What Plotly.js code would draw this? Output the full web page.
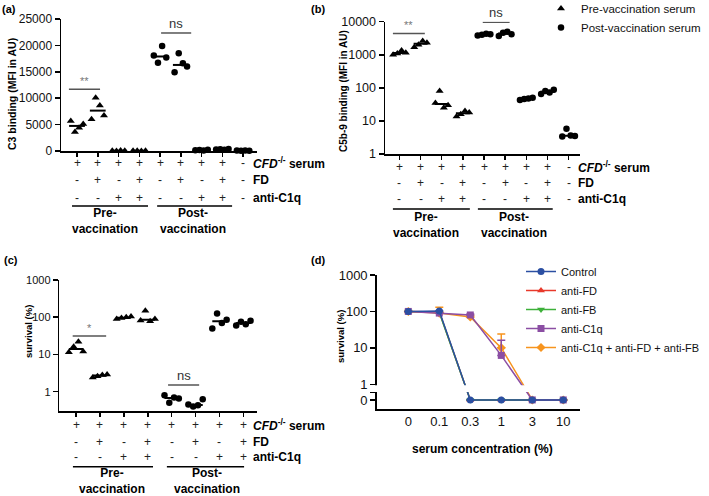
<!DOCTYPE html>
<html><head><meta charset="utf-8">
<script src="https://cdn.plot.ly/plotly-3.0.1.min.js"></script>
<style>html,body{margin:0;padding:0;background:#fff}#chart{width:709px;height:496px}</style>
</head><body><div id="chart"></div>
<script>
// ---------------- data ----------------
// condition rows under panels (a),(b): 9 columns; panel (c): 8 columns
const serumRow9 = ['+','+','+','+','+','+','+','+','-'];
const fdRow9    = ['-','+','-','+','-','+','-','+','-'];
const c1qRow9   = ['-','-','+','+','-','-','+','+','-'];
const serumRow8 = ['+','+','+','+','+','+','+','+'];
const fdRow8    = ['-','+','-','+','-','+','-','+'];
const c1qRow8   = ['-','-','+','+','-','-','+','+'];
const rowLabels = ['<b><i>CFD</i><sup>-/-</sup> serum</b>', '<b>FD</b>', '<b>anti-C1q</b>'];
const groupLabels = ['<b>Pre-<br>vaccination</b>', '<b>Post-<br>vaccination</b>'];

// (a) C3 binding (MFI in AU)
const c3Pre  = [[5700, 3600, 4400, 5100], [6000, 10100, 8600, 6700], [60, 20, 100, 40], [30, 50, 20, 60]];
const c3Post = [[18100, 16700, 19900, 17700], [14900, 18500, 16600, 16000], [150, 200, 100, 250], [300, 350, 250, 400]];
const c3NoSerum = [80, 50, 100, 60];

// (b) C5b-9 binding (MFI in AU)
const c5Pre  = [[1000, 1100, 1350, 1150], [1700, 2000, 2600, 2300], [35, 80, 25, 30], [13.5, 16, 20, 18]];
const c5Post = [[3800, 4000, 4300, 4200], [3700, 4600, 5000, 4200], [43, 46, 48, 50], [65, 80, 72, 88]];
const c5NoSerum = [3.4, 5.8, 3.6, 3.5];

// (c) survival (%)
const survPre  = [[11.5, 16, 22, 12], [2.4, 2.6, 2.8, 2.9], [90, 95, 100, 105], [82, 150, 78, 90]];
const survPost = [[0.8, 0.5, 0.7, 0.65], [0.45, 0.4, 0.43, 0.62], [50, 125, 70, 85], [60, 75, 65, 80]];

// (d) survival (%) vs serum concentration (%)
const concLabels = ['0', '0.1', '0.3', '1', '3', '10'];
const dControl = [100, 103, 0, 0, 0, 0];
const dAntiFD  = [100, 96, 0, 0, 0, 0];
const dAntiFB  = [100, 93, 0, 0, 0, 0];
const dAntiC1q = [100, 90, 80, 6.2, 0, 0];
const dAntiAll = [100, 90, 70, 10, 0, 0];
const sdControl = [0, 0, 0, 0, 0, 0];
const sdAntiFD  = [0, 0, 0, 0, 0, 0];
const sdAntiFB  = [0, 0, 0, 0, 0, 0];
const sdAntiC1q = [0, 0, 5, 10, 0, 0];
const sdAntiAll = [0, 40, 8, 14, 0, 0];

// ---------------- helpers ----------------
const W = 709, H = 496;
const px = x => x / W;
const py = y => 1 - y / H;
const FONT = 'Liberation Sans, Arial, sans-serif';
const JIT = [-0.3, -0.1, 0.1, 0.3];

function median(a) {
  const s = [...a].sort((p, q) => p - q), n = s.length;
  return n % 2 ? s[(n - 1) / 2] : (s[n / 2 - 1] + s[n / 2]) / 2;
}
function dots(groups, start, xa, ya, symbol, size, name, showlegend) {
  const x = [], y = [];
  groups.forEach((g, i) => g.forEach((v, j) => { x.push(start + i + JIT[j]); y.push(v); }));
  return { type: 'scatter', mode: 'markers', x, y, xaxis: xa, yaxis: ya, name, showlegend,
    legend: 'legend2', marker: { symbol, size, color: '#000' }, cliponaxis: false, hoverinfo: 'skip' };
}
function medians(groups, start, xa, ya, hw) {
  const x = [], y = [];
  groups.forEach((g, i) => { const m = median(g); x.push(start + i - hw, start + i + hw, null); y.push(m, m, null); });
  return { type: 'scatter', mode: 'lines', x, y, xaxis: xa, yaxis: ya, showlegend: false,
    line: { color: '#000', width: 2 }, cliponaxis: false, hoverinfo: 'skip' };
}

// broken axis for panel (d): positive values on log scale, zero on a separate lower segment
const ZERO_LEVEL = -0.43, GAP_LOW = -0.231;
const tf = v => v > 0 ? Math.log10(v) : ZERO_LEVEL;
function dTrace(name, vals, sd, color, symbol, rank) {
  return {
    type: 'scatter', mode: 'lines+markers', name, legend: 'legend', legendrank: rank,
    x: concLabels, y: vals.map(tf), xaxis: 'x4', yaxis: 'y4',
    line: { color, width: 1.5 }, marker: { color, symbol, size: 7 },
    error_y: { type: 'data', symmetric: false,
      array: vals.map((v, i) => (sd[i] > 0 && v > 0) ? Math.log10(v + sd[i]) - Math.log10(v) : 0),
      arrayminus: vals.map(() => 0), color, thickness: 1.5, width: 4 },
    cliponaxis: false, hoverinfo: 'skip'
  };
}

// ---------------- traces ----------------
const traces = [
  // (a)
  dots(c3Pre, 1, 'x', 'y', 'triangle-up', 7, 'Pre-vaccination serum', false),
  dots(c3Post, 5, 'x', 'y', 'circle', 6.5, 'Post-vaccination serum', false),
  dots([c3NoSerum], 9, 'x', 'y', 'circle', 6.5, 'No serum', false),
  medians(c3Pre.concat(c3Post, [c3NoSerum]), 1, 'x', 'y', 0.38),
  // (b)
  dots(c5Pre, 1, 'x2', 'y2', 'triangle-up', 7, 'Pre-vaccination serum', true),
  dots(c5Post, 5, 'x2', 'y2', 'circle', 6.5, 'Post-vaccination serum', true),
  dots([c5NoSerum], 9, 'x2', 'y2', 'circle', 6.5, 'No serum', false),
  medians(c5Pre.concat(c5Post, [c5NoSerum]), 1, 'x2', 'y2', 0.33),
  // (c)
  dots(survPre, 1, 'x3', 'y3', 'triangle-up', 7, 'Pre-vaccination serum', false),
  dots(survPost, 5, 'x3', 'y3', 'circle', 6.5, 'Post-vaccination serum', false),
  medians(survPre.concat(survPost), 1, 'x3', 'y3', 0.3),
  // (d)
  dTrace('anti-FD', dAntiFD, sdAntiFD, '#e8392b', 'triangle-up', 2),
  dTrace('anti-FB', dAntiFB, sdAntiFB, '#3db03a', 'triangle-down', 3),
  dTrace('anti-C1q + anti-FD + anti-FB', dAntiAll, sdAntiAll, '#f7941e', 'diamond', 5),
  dTrace('anti-C1q', dAntiC1q, sdAntiC1q, '#8b4ea3', 'square', 4),
  dTrace('Control', dControl, sdControl, '#2b4fa2', 'circle', 1)
];

// ---------------- layout ----------------
const axBase = { showline: true, linecolor: '#000', linewidth: 1.5, ticks: 'outside', ticklen: 5,
  tickwidth: 1.5, tickcolor: '#000', showgrid: false, zeroline: false, fixedrange: true,
  tickfont: { family: FONT, size: 12, color: '#111' } };
const catX = n => ({ tickvals: Array.from({ length: n }, (_, i) => i + 1), showticklabels: false, ticklen: 4 });

const layout = {
  width: W, height: H, margin: { l: 0, r: 0, t: 0, b: 0, autoexpand: false },
  paper_bgcolor: '#fff', plot_bgcolor: 'rgba(0,0,0,0)',
  font: { family: FONT, color: '#000' },
  xaxis:  Object.assign({}, axBase, catX(9), { domain: [px(61), px(257)], range: [0.229, 9.67], anchor: 'y' }),
  yaxis:  Object.assign({}, axBase, { domain: [py(151), py(19)], range: [0, 25000], anchor: 'x',
    tickvals: [0, 5000, 10000, 15000, 20000, 25000], tickformat: 'd' }),
  xaxis2: Object.assign({}, axBase, catX(9), { domain: [px(385), px(580)], range: [0.316, 9.54], anchor: 'y2' }),
  yaxis2: Object.assign({}, axBase, { type: 'log', domain: [py(154), py(21.7)], range: [0, 4], anchor: 'x2',
    tickvals: [1, 10, 100, 1000, 10000], ticktext: ['1', '10', '100', '1000', '10000'],
    tickfont: { family: FONT, size: 12.5, color: '#111' } }),
  xaxis3: Object.assign({}, axBase, catX(8), { domain: [px(59.3), px(257)], range: [0.30, 8.57], anchor: 'y3' }),
  yaxis3: Object.assign({}, axBase, { type: 'log', domain: [py(411), py(280)], range: [-0.52, 3], anchor: 'x3',
    tickvals: [1, 10, 100, 1000], ticktext: ['1', '10', '100', '1000'],
    tickfont: { family: FONT, size: 11, color: '#111' } }),
  xaxis4: Object.assign({}, axBase, { type: 'category', domain: [px(376.7), px(580)], range: [-1.02, 5.54], anchor: 'y4',
    ticks: '', tickfont: { family: FONT, size: 13, color: '#111' } }),
  yaxis4: Object.assign({}, axBase, { domain: [py(409.3), py(275)], range: [-0.687, 3], anchor: 'x4',
    tickvals: [ZERO_LEVEL, GAP_LOW, 0, 1, 2, 3], ticktext: ['0', '', '1', '10', '100', '1000'],
    tickfont: { family: FONT, size: 13, color: '#111' } }),
  legend: { x: px(521), y: py(257), xanchor: 'left', yanchor: 'top', bgcolor: 'rgba(0,0,0,0)',
    font: { family: FONT, size: 11, color: '#111' }, traceorder: 'normal' },
  legend2: { x: px(541), y: 1 + 6 / H, xanchor: 'left', yanchor: 'top', bgcolor: 'rgba(0,0,0,0)',
    font: { family: FONT, size: 11.5, color: '#111' } },
  shapes: [], annotations: []
};

const A = layout.annotations, S = layout.shapes;
function txt(o) { A.push(Object.assign({ showarrow: false, xanchor: 'center', yanchor: 'middle' }, o)); }

// panel letters
[['(a)', 9, 9], ['(b)', 318, 9], ['(c)', 11, 260], ['(d)', 318, 260]].forEach(([t, x, y]) =>
  txt({ xref: 'paper', yref: 'paper', x: px(x), y: py(y), text: '<b>' + t + '</b>', font: { size: 11 } }));

// axis titles
[['C3 binding (MFI in AU)', 12, 94, 10.5], ['C5b-9 binding (MFI in AU)', 343, 91, 10],
 ['survival (%)', 28, 332, 9.5], ['survival (%)', 340, 337, 9.5]].forEach(([t, x, y, s]) =>
  txt({ xref: 'paper', yref: 'paper', x: px(x), y: py(y), text: '<b>' + t + '</b>', textangle: -90, font: { size: s } }));
txt({ xref: 'paper', yref: 'paper', x: px(482), y: py(449), text: '<b>serum concentration (%)</b>', font: { size: 12 } });

// condition rows
function rows(rowArr, xa, ys, labelX) {
  rowArr.forEach((row, r) => {
    row.forEach((s, i) => txt({ xref: xa, yref: 'paper', x: i + 1, y: py(ys[r]), text: s, font: { size: 12, color: '#222' } }));
    txt({ xref: 'paper', yref: 'paper', x: px(labelX), y: py(ys[r]), xanchor: 'left', text: rowLabels[r], font: { size: 12 } });
  });
}
rows([serumRow9, fdRow9, c1qRow9], 'x', [163.3, 180, 197.7], 251);
rows([serumRow9, fdRow9, c1qRow9], 'x2', [167, 183, 199], 576);
rows([serumRow8, fdRow8, c1qRow8], 'x3', [425, 441.7, 457.3], 251);

// group underlines + labels
function groups(xa, yLine, spans, centers, yText) {
  spans.forEach(([a, b], k) => {
    S.push({ type: 'line', xref: xa, yref: 'paper', x0: a, x1: b, y0: py(yLine), y1: py(yLine), line: { color: '#000', width: 1.5 } });
    txt({ xref: xa, yref: 'paper', x: centers[k], y: py(yText), text: groupLabels[k], font: { size: 12 } });
  });
}
groups('x', 206, [[0.76, 4.42], [4.86, 8.47]], [2.35, 6.59], 221.5);
groups('x2', 209, [[0.69, 4.33], [4.71, 8.25]], [2.25, 6.40], 224.5);
groups('x3', 466.7, [[0.87, 4.22], [4.80, 8.03]], [2.51, 6.48], 480.5);

// significance brackets (value in data units; annotations on log axes need log10)
function sig(xa, ya, isLog, x0, x1, v, label, size, color) {
  S.push({ type: 'line', xref: xa, yref: ya, x0, x1, y0: v, y1: v, line: { color: '#555', width: 1.5 } });
  txt({ xref: xa, yref: ya, x: (x0 + x1) / 2, y: isLog ? Math.log10(v) : v, yanchor: 'bottom', text: label, font: { size, color } });
}
sig('x', 'y', false, 0.61, 2.11, 11700, '**', 11, '#777');
sig('x', 'y', false, 5.05, 6.5, 22350, 'ns', 13, '#333');
sig('x2', 'y2', true, 0.69, 2.20, 4430, '**', 11, '#777');
sig('x2', 'y2', true, 4.94, 6.21, 9550, 'ns', 13, '#333');
sig('x3', 'y3', true, 0.86, 2.26, 31.4, '*', 11, '#777');
sig('x3', 'y3', true, 4.85, 6.15, 1.51, 'ns', 13, '#333');

// axis break in (d)
S.push({ type: 'rect', xref: 'paper', yref: 'y4', x0: px(373), x1: px(585), y0: GAP_LOW + 0.02, y1: -0.025,
  fillcolor: '#fff', line: { width: 0 }, layer: 'above' });

Plotly.newPlot('chart', traces, layout, { staticPlot: true, displayModeBar: false });
</script></body></html>
